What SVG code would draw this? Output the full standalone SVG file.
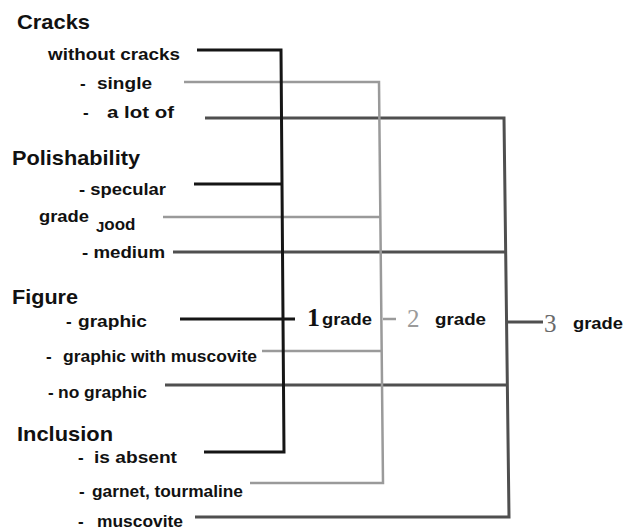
<svg xmlns="http://www.w3.org/2000/svg" width="627" height="532" viewBox="0 0 627 532">
<style>
text{font-family:"Liberation Sans",Arial,sans-serif;font-weight:bold;fill:#111}
.h{font-size:21px}
.i{font-size:17px}
.d{font-family:"Liberation Serif","Times New Roman",serif;font-size:25px}
.n{font-weight:normal}
.k{fill:none;stroke:#151515;stroke-width:3}
.g{fill:none;stroke:#9a9a9a;stroke-width:2.5}
.m{fill:none;stroke:#4f4f4f;stroke-width:3}
</style>
<rect width="627" height="532" fill="#fff"/>
<g id="connectors">
<path class="m" d="M205 118H504L509 517H195M173 252H505M165 385H508M507 322H543"/>
<path class="g" d="M184 82H379L383 483H250M163 217H380M262 351H382M383 319H396"/>
<path class="k" d="M197 50H281L284 452H204M194 184H282M180 319H295"/>
</g>
<g id="cracks"><text class="h" x="17" y="29" textLength="73" lengthAdjust="spacingAndGlyphs">Cracks</text></g>
<g id="without-cracks"><text class="i" x="48" y="60" textLength="132" lengthAdjust="spacingAndGlyphs">without cracks</text></g>
<g id="single"><text class="i" y="89"><tspan x="80">-</tspan><tspan x="97" textLength="55" lengthAdjust="spacingAndGlyphs">single</tspan></text></g>
<g id="a-lot-of"><text class="i" y="118"><tspan x="83">-</tspan><tspan x="107" textLength="67" lengthAdjust="spacingAndGlyphs">a lot of</tspan></text></g>
<g id="polishability"><text class="h" x="12" y="165" textLength="128" lengthAdjust="spacingAndGlyphs">Polishability</text></g>
<g id="specular"><text class="i" x="79" y="195" textLength="87" lengthAdjust="spacingAndGlyphs">- specular</text></g>
<g id="good"><text class="i" x="39" y="222" textLength="50" lengthAdjust="spacingAndGlyphs">grade</text><text class="i" x="96" y="230"><tspan font-size="15" dy="2">J</tspan><tspan dy="-2">ood</tspan></text></g>
<g id="medium"><text class="i" x="82" y="258" textLength="83" lengthAdjust="spacingAndGlyphs">- medium</text></g>
<g id="figure"><text class="h" x="12" y="304" textLength="66" lengthAdjust="spacingAndGlyphs">Figure</text></g>
<g id="graphic"><text class="i" y="327"><tspan x="66">-</tspan><tspan x="78" textLength="69" lengthAdjust="spacingAndGlyphs">graphic</tspan></text></g>
<g id="graphic-muscovite"><text class="i" y="362"><tspan x="46">-</tspan><tspan x="63" textLength="194" lengthAdjust="spacingAndGlyphs">graphic with muscovite</tspan></text></g>
<g id="no-graphic"><text class="i" y="398"><tspan x="48">-</tspan><tspan x="58" textLength="89" lengthAdjust="spacingAndGlyphs">no graphic</tspan></text></g>
<g id="inclusion"><text class="h" x="17" y="441" textLength="96" lengthAdjust="spacingAndGlyphs">Inclusion</text></g>
<g id="is-absent"><text class="i" y="463"><tspan x="78">-</tspan><tspan x="94" textLength="83" lengthAdjust="spacingAndGlyphs">is absent</tspan></text></g>
<g id="garnet"><text class="i" y="497"><tspan x="79">-</tspan><tspan x="92" textLength="151" lengthAdjust="spacingAndGlyphs">garnet, tourmaline</tspan></text></g>
<g id="muscovite"><text class="i" y="527"><tspan x="78">-</tspan><tspan x="97" textLength="86" lengthAdjust="spacingAndGlyphs">muscovite</tspan></text></g>
<g id="grade1"><text class="d" x="307" y="326" textLength="13" lengthAdjust="spacingAndGlyphs">1</text><text class="i" x="322" y="325" textLength="50" lengthAdjust="spacingAndGlyphs">grade</text></g>
<g id="grade2"><text class="d n" x="407" y="327" style="fill:#9a9a9a">2</text><text class="i" x="435" y="325" textLength="51" lengthAdjust="spacingAndGlyphs">grade</text></g>
<g id="grade3"><text class="d n" x="544" y="332" style="fill:#6a6a6a">3</text><text class="i" x="573" y="329" textLength="50" lengthAdjust="spacingAndGlyphs">grade</text></g>
</svg>
